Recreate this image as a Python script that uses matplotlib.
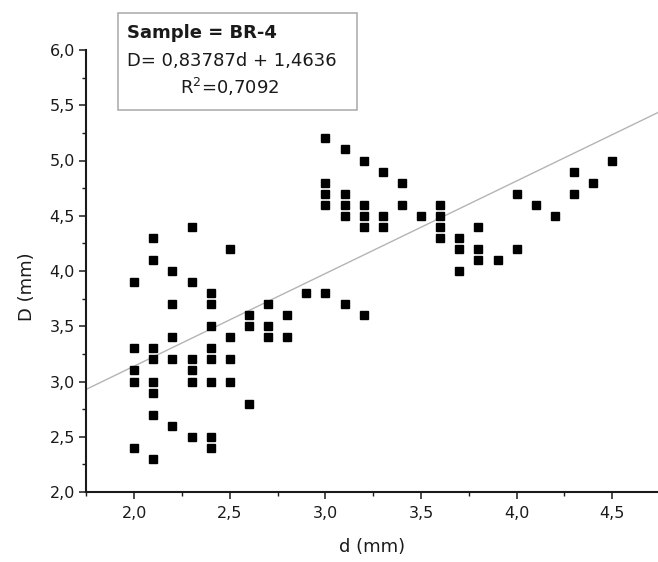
import matplotlib
matplotlib.use("Agg")
import matplotlib.pyplot as plt
from matplotlib.patches import Rectangle
from matplotlib.ticker import MultipleLocator, FuncFormatter

# particle data, read column by column (d in mm)
d_mm = ([2.0] * 5 + [2.1] * 8 + [2.2] * 5 + [2.3] * 6 + [2.4] * 8 + [2.5] * 4 +
        [2.6] * 3 + [2.7] * 3 + [2.8] * 2 + [2.9] + [3.0] * 5 + [3.1] * 5 +
        [3.2] * 5 + [3.3] * 3 + [3.4] * 2 + [3.5] + [3.6] * 4 + [3.7] * 3 +
        [3.8] * 3 + [3.9] + [4.0] * 2 + [4.1] + [4.2] + [4.3] * 2 + [4.4] + [4.5])
D_mm = [3.9, 3.3, 3.1, 3.0, 2.4,
        4.3, 4.1, 3.3, 3.2, 3.0, 2.9, 2.7, 2.3,
        4.0, 3.7, 3.4, 3.2, 2.6,
        4.4, 3.9, 3.2, 3.1, 3.0, 2.5,
        3.8, 3.7, 3.5, 3.3, 3.2, 3.0, 2.5, 2.4,
        4.2, 3.4, 3.2, 3.0,
        3.6, 3.5, 2.8,
        3.7, 3.5, 3.4,
        3.6, 3.4,
        3.8,
        5.2, 4.8, 4.7, 4.6, 3.8,
        5.1, 4.7, 4.6, 4.5, 3.7,
        5.0, 4.6, 4.5, 4.4, 3.6,
        4.9, 4.5, 4.4,
        4.8, 4.6,
        4.5,
        4.6, 4.5, 4.4, 4.3,
        4.3, 4.2, 4.0,
        4.4, 4.2, 4.1,
        4.1,
        4.7, 4.2,
        4.6,
        4.5,
        4.9, 4.7,
        4.8,
        5.0]

SLOPE = 0.83787
INTERCEPT = 1.4636
R2 = 0.7092
SAMPLE = "BR-4"

ink = "#1a1a1a"
plt.rcParams["font.family"] = ["DejaVu Sans"]

fig = plt.figure(figsize=(6.58, 5.62), dpi=100)
ax = fig.add_axes([86 / 658, 70 / 562, 1 - 86 / 658, 442 / 562])

ax.axline((0, INTERCEPT), slope=SLOPE, color="#b4b4b4", lw=1.0, zorder=1)
ax.plot(d_mm, D_mm, "s", color="black", ms=6, zorder=2)

ax.set_xlim(1.748, 4.739)
ax.set_ylim(2.0, 6.0)

for s in ("top", "right"):
    ax.spines[s].set_visible(False)
for s in ("left", "bottom"):
    ax.spines[s].set_linewidth(1.5)
    ax.spines[s].set_color(ink)

ax.xaxis.set_major_locator(MultipleLocator(0.5))
ax.xaxis.set_minor_locator(MultipleLocator(0.25))
ax.yaxis.set_major_locator(MultipleLocator(0.5))
ax.yaxis.set_minor_locator(MultipleLocator(0.25))
comma = FuncFormatter(lambda v, p: ("%.1f" % v).replace(".", ","))
ax.xaxis.set_major_formatter(comma)
ax.yaxis.set_major_formatter(comma)
ax.tick_params(which="major", direction="out", length=5, width=1.1,
               color=ink, labelcolor=ink, labelsize=11.5)
ax.tick_params(which="minor", direction="out", length=3, width=1.0, color=ink)
ax.tick_params(axis="x", which="major", pad=5)
ax.tick_params(axis="y", which="major", pad=3)

ax.set_xlabel("d (mm)", fontsize=13, color=ink)
ax.set_ylabel("D (mm)", fontsize=13, color=ink)
ax.xaxis.set_label_coords(0.5, -0.105)
ax.yaxis.set_label_coords(-0.087, 0.464)

# fit result box
fig.patches.append(Rectangle((118 / 658, 1 - 110 / 562), 239 / 658, 97 / 562,
                             transform=fig.transFigure, fill=False,
                             edgecolor="#a8a8a8", lw=1.1))
fig.text(127 / 658, 1 - 33 / 562, "Sample = " + SAMPLE, fontsize=13,
         fontweight="bold", color=ink, va="center", ha="left")
eq = ("D= %.5fd + %.4f" % (SLOPE, INTERCEPT)).replace(".", ",")
fig.text(127 / 658, 1 - 61 / 562, eq, fontsize=13, color=ink,
         va="center", ha="left")
fig.text(180 / 658, 1 - 87 / 562, ("R$^2$=%.4f" % R2).replace(".", ","),
         fontsize=13, color=ink, va="center", ha="left")

fig.savefig("out.png", dpi=100)
